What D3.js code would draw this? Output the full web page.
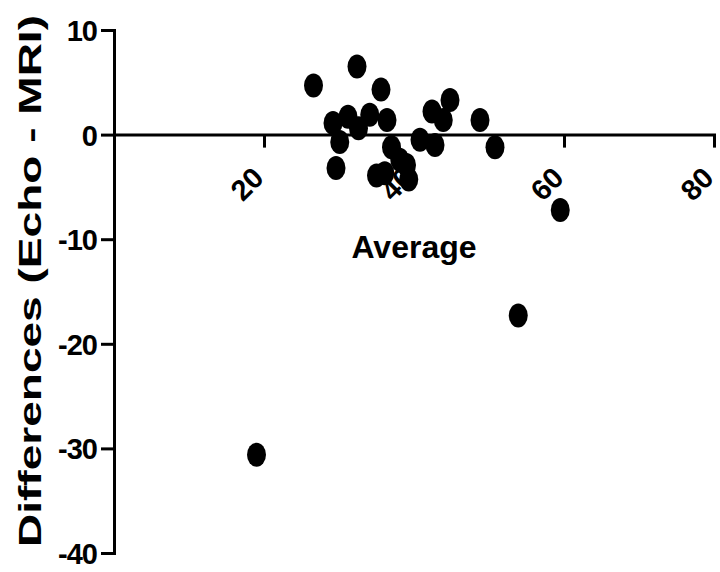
<!DOCTYPE html>
<html>
<head>
<meta charset="utf-8">
<script src="https://cdn.jsdelivr.net/npm/d3@7"></script>
<style>
  html, body { margin: 0; padding: 0; background: #fff; }
  svg { display: block; }
  text { font-family: "Liberation Sans", Arial, sans-serif; font-weight: bold; fill: #000; }
</style>
</head>
<body>
<svg id="chart" width="720" height="572"></svg>
<script>
// Bland-Altman style data: mean of the two methods vs. their difference
const averages    = [19.0, 26.6, 29.2, 29.6, 30.1, 31.2, 32.4, 32.6, 34.1, 35.0, 35.6, 36.1, 36.4,
                     37.0, 38.1, 39.0, 39.3, 40.8, 42.4, 42.8, 43.9, 44.8, 48.8, 50.8, 53.9, 59.5];
const differences = [-30.6, 4.7, 1.1, -3.2, -0.7, 1.7, 6.5, 0.6, 1.9, -3.9, 4.3, -3.7, 1.4,
                     -1.2, -2.4, -2.9, -4.3, -0.5, 2.2, -1.0, 1.4, 3.3, 1.4, -1.2, -17.3, -7.2];
const xTicks = [20, 40, 60, 80];
const yTicks = [10, 0, -10, -20, -30, -40];
const xTitle = "Average";
const yTitle = "Differences (Echo - MRI)";

const svg = d3.select("#chart");

const x = d3.scaleLinear().domain([0, 80]).range([114, 714]);
const y = d3.scaleLinear().domain([-40, 10]).range([553, 30]);

// plain hyphen for negative tick labels
const fmt = d => String(d);

// horizontal axis sits on the zero-difference line
const xAxis = svg.append("g")
  .attr("transform", `translate(0,${y(0)})`)
  .call(d3.axisBottom(x).tickValues(xTicks).tickFormat(fmt).tickSize(13).tickSizeOuter(0));

xAxis.selectAll("text")
  .attr("x", 0).attr("y", 0).attr("dy", 0)
  .attr("text-anchor", "end")
  .attr("transform", "translate(1,45) rotate(-45)")
  .style("font-size", "29px");

const yAxis = svg.append("g")
  .attr("transform", `translate(${x(0)},0)`)
  .call(d3.axisLeft(y).tickValues(yTicks).tickFormat(fmt).tickSize(13).tickSizeOuter(0).tickPadding(4));

yAxis.selectAll("text")
  .style("font-size", "29px")
  .style("letter-spacing", "-1px")
  .attr("dy", "0.36em");

svg.selectAll(".domain, .tick line")
  .attr("stroke", "#000")
  .attr("stroke-width", 3);
svg.selectAll(".domain").attr("stroke-linecap", "square");

xAxis.attr("font-family", null).attr("font-size", null);
yAxis.attr("font-family", null).attr("font-size", null);

// axis titles
svg.append("text")
  .attr("x", x(40))
  .attr("y", 258)
  .attr("text-anchor", "middle")
  .style("font-size", "32px")
  .text(xTitle);

svg.append("text")
  .attr("transform", `translate(41,${(15 + 547) / 2}) rotate(-90)`)
  .attr("text-anchor", "middle")
  .attr("textLength", 532)
  .attr("lengthAdjust", "spacingAndGlyphs")
  .style("font-size", "31px")
  .text(yTitle);

// data points
svg.append("g")
  .selectAll("ellipse")
  .data(averages.map((a, i) => ({ a, d: differences[i] })))
  .join("ellipse")
  .attr("cx", p => x(p.a))
  .attr("cy", p => y(p.d))
  .attr("rx", 9.5)
  .attr("ry", 12)
  .attr("fill", "#000");
</script>
</body>
</html>
